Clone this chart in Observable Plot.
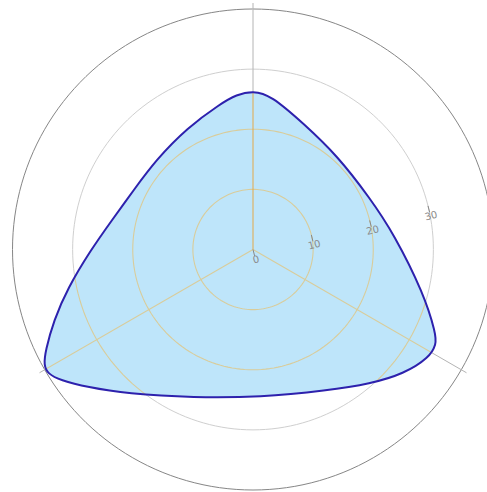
<!DOCTYPE html>
<html><head><meta charset="utf-8">
<script src="https://cdn.jsdelivr.net/npm/d3@7"></script>
<script src="https://cdn.jsdelivr.net/npm/@observablehq/plot@0.6"></script>
<style>html,body{margin:0;padding:0;background:#fff;} #chart svg{display:block;}</style>
</head><body><div id="chart"></div>
<script>
// Shape: angle (degrees, clockwise from north) and radius
const angles = [0, 6.5, 22.0, 41.9, 66.7, 83.6, 104.5, 114.8, 117.3, 121.5, 129.5, 138.8, 152.2, 177.1, 201.8, 221.1, 230.3, 235.9, 238.8, 241.1, 244.0, 250.4, 258.1, 269.7, 282.1, 296.3, 312.4, 331.8, 347.4, 353.9];
const radii  = [26.4, 25.85, 22.55, 20.99, 21.28, 23.56, 29.35, 33.5, 34.3, 34.4, 32.50, 29.68, 26.50, 24.60, 26.56, 31.84, 35.85, 38.75, 39.9, 39.75, 38.4, 35.17, 31.53, 27.03, 23.90, 22.17, 21.96, 23.03, 24.83, 25.9];
const tickValues = [0, 10, 20, 30];
const tickLabels = ["0", "10", "20", "30"];
const gridRadii = [10, 20, 30];
const outerRadius = 40;
const spokeAngles = [0, 120, 240];
const axisAngle = 76;

const rad = d => d * Math.PI / 180;
const px = (a, r) => r * Math.sin(rad(a));
const py = (a, r) => r * Math.cos(rad(a));

const shape = angles.map((a, i) => ({a, r: radii[i]}));
const steps = d3.range(0, 360, 2);
const circles = gridRadii.flatMap(r => steps.map(a => ({a, r})));
const outer = steps.map(a => ({a, r: outerRadius}));
const ticks = tickValues.map((v, i) => ({v, label: tickLabels[i]}));

const circleLine = (data, opts) => Plot.line(data, {x: d => px(d.a, d.r), y: d => py(d.a, d.r), z: "r", curve: "linear-closed", ...opts});
const spokes = (data, len, opts) => Plot.link(data, {x1: () => 0, y1: () => 0, x2: a => px(a, len), y2: a => py(a, len), ...opts});

const marks = [
  circleLine(circles, {stroke: "#cfcfcf", strokeWidth: 1}),                      // 0
  circleLine(outer, {stroke: "#868686", strokeWidth: 1}),                        // 1
  spokes(spokeAngles, 41, {stroke: "#b4b4b4", strokeWidth: 1}),                  // 2
  Plot.line(shape, {x: d => px(d.a, d.r), y: d => py(d.a, d.r), curve: "basis-closed", fill: "#bee5fa", stroke: "none"}), // 3 fill
  circleLine(circles, {stroke: "#d9cc9a", strokeWidth: 1.1}),                    // 4 clipped
  spokes(spokeAngles.slice(1), 41, {stroke: "#d9cc9a", strokeWidth: 1.1}),       // 5 clipped
  spokes(spokeAngles.slice(0, 1), 41, {stroke: "#e2a94a", strokeWidth: 1}),      // 6 clipped
  Plot.line(shape, {x: d => px(d.a, d.r), y: d => py(d.a, d.r), curve: "basis-closed", stroke: "#2d21ad", strokeWidth: 2}),
  Plot.link(ticks, {x1: d => px(axisAngle, d.v), y1: d => py(axisAngle, d.v), x2: d => px(axisAngle, d.v) + px(axisAngle + 90, 1.1), y2: d => py(axisAngle, d.v) + py(axisAngle + 90, 1.1), stroke: "#888", strokeWidth: 1}),
  Plot.text(ticks, {x: d => px(axisAngle, d.v), y: d => py(axisAngle, d.v), text: "label", dx: 3, dy: 10, rotate: -14, fill: "#8a8a8a", fontSize: 10, fontFamily: "DejaVu Sans, sans-serif"})
];

const plot = Plot.plot({
  width: 487, height: 492,
  marginLeft: 12, marginRight: 0, marginTop: 8.5, marginBottom: 2.5,
  x: {domain: [-40, 39.0], axis: null},
  y: {domain: [-40, 40], axis: null},
  style: {background: "transparent"},
  marks
});

try {
  const gs = Array.from(plot.children).filter(el => el.tagName.toLowerCase() === "g");
  const fillG = gs[3];
  const fillPath = fillG.querySelector("path") || fillG;
  const ns = "http://www.w3.org/2000/svg";
  const defs = document.createElementNS(ns, "defs");
  const cp = document.createElementNS(ns, "clipPath");
  cp.setAttribute("id", "shape-clip");
  const cpPath = document.createElementNS(ns, "path");
  cpPath.setAttribute("d", fillPath.getAttribute("d"));
  const t = [fillG.getAttribute("transform"), fillPath !== fillG ? fillPath.getAttribute("transform") : null].filter(Boolean).join(" ");
  if (t) cpPath.setAttribute("transform", t);
  cp.appendChild(cpPath);
  defs.appendChild(cp);
  plot.insertBefore(defs, plot.firstChild);
  [gs[4], gs[5], gs[6]].forEach(g => {
    const wrap = document.createElementNS(ns, "g");
    wrap.setAttribute("clip-path", "url(#shape-clip)");
    g.parentNode.insertBefore(wrap, g);
    wrap.appendChild(g);
  });
} catch (e) { console.error(e); }

document.getElementById("chart").appendChild(plot);
</script>
</body></html>
